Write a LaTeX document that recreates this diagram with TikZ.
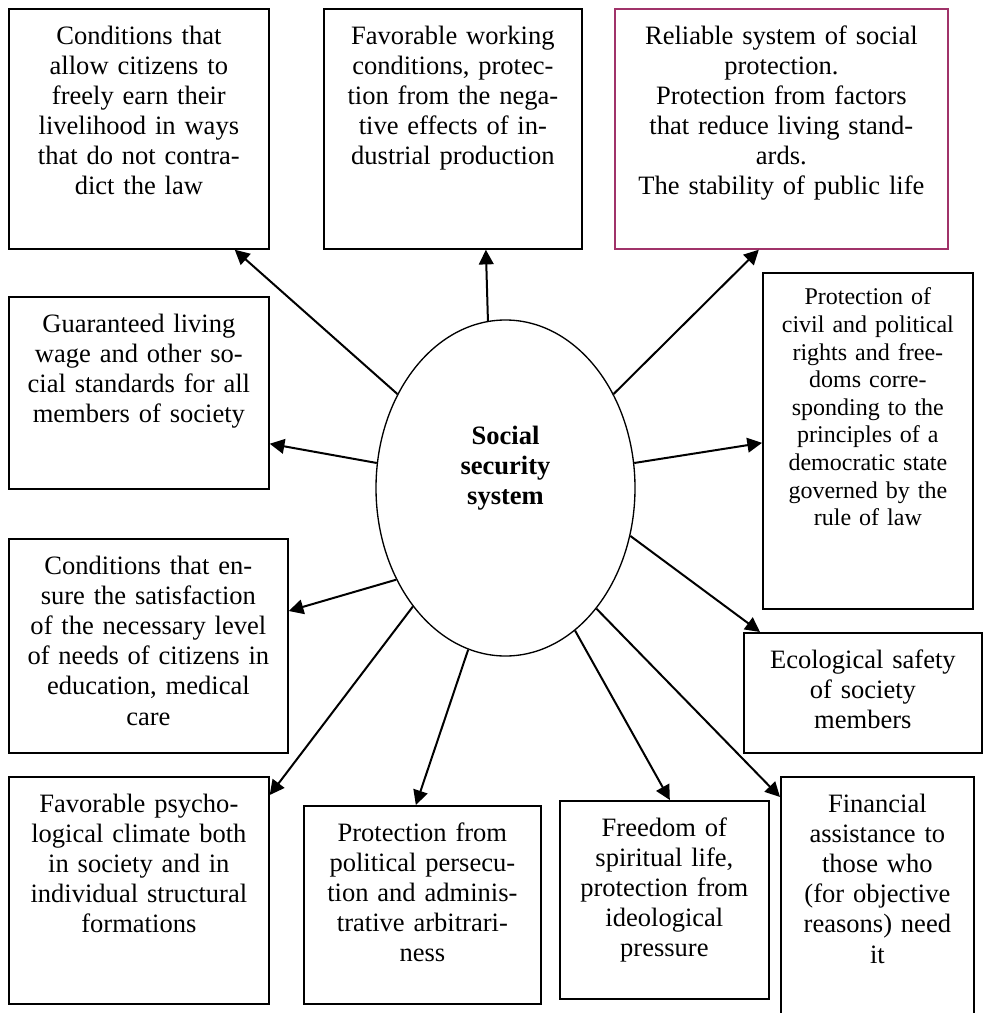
\documentclass[tikz,border=0pt]{standalone}
\usepackage{fontspec}
\setmainfont{Liberation Serif}
\usetikzlibrary{arrows.meta,shapes.geometric}
\definecolor{boxred}{RGB}{160,50,105}

\begin{document}
\begin{tikzpicture}[
  x=0.75pt, y=-0.75pt,
  font=\fontsize{19.9}{22.6}\selectfont,
  goal/.style={rectangle, draw, line width=1.3pt, anchor=north west, inner sep=0pt,
               align=center, text height=26.6pt},
  hub/.style={ellipse, draw, line width=1pt, inner sep=0pt, align=center, text width=100pt,
              minimum width=194.25pt, minimum height=252pt,
              font=\fontsize{19.9}{22.8}\selectfont\bfseries},
  arr/.style={-{Triangle[length=11pt, width=11pt]}, line width=1.5pt}
]
\useasboundingbox (0,0) rectangle (982,1013);

\node[hub, text height=0pt, text depth=66pt] (ss) at (505.5,488) {Social\\security\\system};

\node[goal, text width=195pt, text depth=153.4pt] (livelihood) at (8,8)
  {Conditions that\\allow citizens to\\freely earn their\\livelihood in ways\\that do not contra-\\dict the law};
\node[goal, text width=193.5pt, text depth=153.4pt] (working) at (323,8)
  {Favorable working\\conditions, protec-\\tion from the nega-\\tive effects of in-\\dustrial production};
\node[goal, draw=boxred, text width=249.75pt, text depth=153.4pt] (protection) at (614,8)
  {Reliable system of social\\protection.\\Protection from factors\\that reduce living stand-\\ards.\\The stability of public life};
\node[goal, text width=157.5pt, font=\fontsize{18}{20.7}\selectfont, text height=24pt, text depth=228pt] (rights) at (762,272)
  {Protection of\\civil and political\\rights and free-\\doms corre-\\sponding to the\\principles of a\\democratic state\\governed by the\\rule of law};
\node[goal, text width=178.5pt, text depth=63.4pt] (ecology) at (743,632)
  {Ecological safety\\of society\\members};
\node[goal, text width=144.75pt, text depth=168.4pt] (finance) at (780,776)
  {Financial\\assistance to\\those who\\(for objective\\reasons) need\\it};
\node[goal, text width=156.75pt, text depth=121.9pt] (spirit) at (559,800)
  {Freedom of\\spiritual life,\\protection from\\ideological\\pressure};
\node[goal, text width=177.75pt, text depth=121.9pt] (persecution) at (303,805)
  {Protection from\\political persecu-\\tion and adminis-\\trative arbitrari-\\ness};
\node[goal, text width=195pt, text depth=143.65pt] (climate) at (8,776)
  {Favorable psycho-\\logical climate both\\in society and in\\individual structural\\formations};
\node[goal, text width=209.25pt, text depth=133.9pt] (needs) at (8,538)
  {Conditions that en-\\sure the satisfaction\\of the necessary level\\of needs of citizens in\\education, medical\\care};
\node[goal, text width=195pt, text depth=117.4pt] (wage) at (8,296)
  {Guaranteed living\\wage and other so-\\cial standards for all\\members of society};

\draw[arr] (ss.139)   -- ([xshift=-26.25pt]livelihood.south east);
\draw[arr] (ss.96.6)  -- ([xshift=24.75pt]working.south);
\draw[arr] (ss.41.2)  -- ([xshift=-16.9pt]protection.south);
\draw[arr] (ss.11)    -- ([yshift=-1.5pt]rights.west);
\draw[arr] (ss.169.1) -- ([yshift=34.5pt]wage.south east);
\draw[arr] (ss.220.7) -- ([yshift=-54.75pt]needs.north east);
\draw[arr] (ss.232.7) -- ([yshift=-14.25pt]climate.north east);
\draw[arr] (ss.257.4) -- ([xshift=-4.9pt]persecution.north);
\draw[arr] (ss.296.4) -- ([xshift=4.1pt]spirit.north);
\draw[arr] (ss.307)   -- ([yshift=-15.75pt]finance.north west);
\draw[arr] (ss.339.8) -- ([xshift=12.75pt]ecology.north west);
\end{tikzpicture}
\end{document}
